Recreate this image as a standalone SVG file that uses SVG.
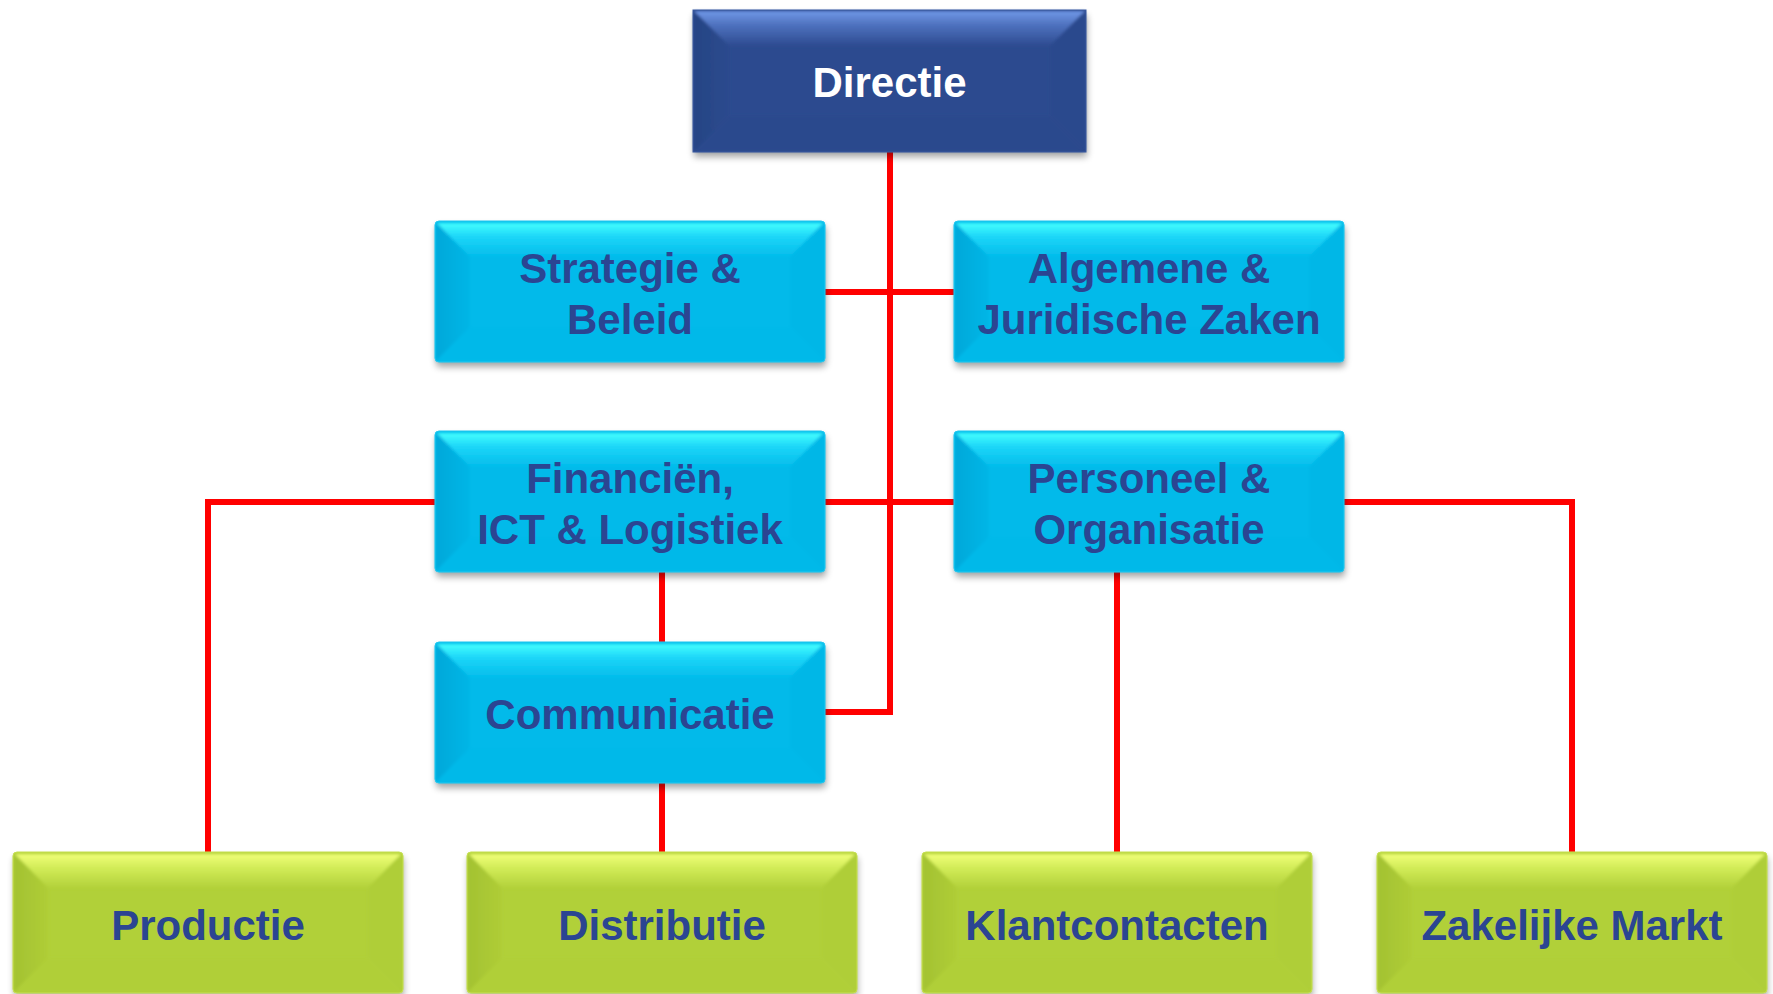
<svg xmlns="http://www.w3.org/2000/svg" xmlns:xlink="http://www.w3.org/1999/xlink" width="1773" height="994" viewBox="0 0 1773 994">
<style>
.lbl{font-family:"Liberation Sans",Arial,sans-serif;font-weight:bold;font-size:42px;text-anchor:middle;fill:#2B4592}
.lblw{font-family:"Liberation Sans",Arial,sans-serif;font-weight:bold;font-size:42px;text-anchor:middle;fill:#FFFFFF}
.conn{fill:none;stroke:#FF0000;stroke-width:6;stroke-linejoin:miter;stroke-linecap:butt}
</style>
<defs>
<filter id="sh" x="-10%" y="-20%" width="120%" height="150%">
<feGaussianBlur stdDeviation="3.5"/>
</filter>
<filter id="soft" x="-5%" y="-5%" width="110%" height="110%">
<feGaussianBlur stdDeviation="1.5"/>
</filter>
<linearGradient id="cTop" x1="0" y1="0" x2="0" y2="1">
<stop offset="0" stop-color="#46FFFF"/><stop offset="0.4" stop-color="#1CD6F8"/><stop offset="1" stop-color="#03BCEB"/>
</linearGradient>
<linearGradient id="cLeft" x1="0" y1="0" x2="1" y2="0">
<stop offset="0" stop-color="#02A8DA"/><stop offset="1" stop-color="#03B6E6"/>
</linearGradient>
<linearGradient id="gTop" x1="0" y1="0" x2="0" y2="1">
<stop offset="0" stop-color="#F0FF78"/><stop offset="0.4" stop-color="#D2EC58"/><stop offset="1" stop-color="#B2D13A"/>
</linearGradient>
<linearGradient id="gLeft" x1="0" y1="0" x2="1" y2="0">
<stop offset="0" stop-color="#A3C232"/><stop offset="1" stop-color="#AFCD37"/>
</linearGradient>
<linearGradient id="dTop" x1="0" y1="0" x2="0" y2="1">
<stop offset="0" stop-color="#7098E8"/><stop offset="0.4" stop-color="#4E71BE"/><stop offset="1" stop-color="#2D4B90"/>
</linearGradient>
<linearGradient id="dLeft" x1="0" y1="0" x2="1" y2="0">
<stop offset="0" stop-color="#264484"/><stop offset="1" stop-color="#2B4A8E"/>
</linearGradient>
<g id="cyanBox">
<rect x="1" y="5" width="390" height="141" rx="4" fill="#000" opacity="0.35" filter="url(#sh)"/>
<rect x="0" y="0" width="390" height="141" rx="4" fill="#02BAEA"/>
<g filter="url(#soft)">
<polygon points="2,2 388,2 355,36 35,36" fill="url(#cTop)"/>
<polygon points="1,2 35,36 35,106 1,140" fill="url(#cLeft)"/>
<polygon points="389,2 355,36 355,106 389,140" fill="#03B7E7"/>
<polygon points="1,140 35,106 355,106 389,140" fill="#03B9E9"/>
</g>
<rect x="0" y="0" width="390" height="141" rx="4" fill="none" stroke="#20C8F0" stroke-width="1"/>
</g>
<g id="greenBox">
<rect x="1" y="5" width="390" height="141" rx="4" fill="#000" opacity="0.3" filter="url(#sh)"/>
<rect x="0" y="0" width="390" height="141" rx="4" fill="#B1D039"/>
<g filter="url(#soft)">
<polygon points="2,2 388,2 355,36 35,36" fill="url(#gTop)"/>
<polygon points="1,2 35,36 35,106 1,140" fill="url(#gLeft)"/>
<polygon points="389,2 355,36 355,106 389,140" fill="#AFCE38"/>
<polygon points="1,140 35,106 355,106 389,140" fill="#B0CF38"/>
</g>
<rect x="0" y="0" width="390" height="141" rx="4" fill="none" stroke="#C6E050" stroke-width="1"/>
</g>
</defs>

<g id="connectors">
<path class="conn" d="M890,152 V712 H825"/>
<path class="conn" d="M825,292 H954"/>
<path class="conn" d="M825,502 H954"/>
<path class="conn" d="M435,502 H208 V852"/>
<path class="conn" d="M1344,502 H1572 V852"/>
<path class="conn" d="M662,572 V642"/>
<path class="conn" d="M662,782 V852"/>
<path class="conn" d="M1117,572 V852"/>
</g>

<g id="directie" transform="translate(693,10)">
<rect x="1" y="5" width="393" height="142" fill="#000" opacity="0.35" filter="url(#sh)"/>
<rect x="0" y="0" width="393" height="142" fill="#2C4A8F"/>
<g filter="url(#soft)">
<polygon points="1,1 392,1 357,36 36,36" fill="url(#dTop)"/>
<polygon points="1,1 36,36 36,106 1,141" fill="url(#dLeft)"/>
<polygon points="392,1 357,36 357,106 392,141" fill="#2B498D"/>
<polygon points="1,141 36,106 357,106 392,141" fill="#2B498D"/>
</g>
<rect x="0" y="0" width="393" height="142" fill="none" stroke="#3A5AA0" stroke-width="1"/>
<text class="lblw" x="196.5" y="87">Directie</text>
</g>

<g id="strategie" transform="translate(435,221)">
<use xlink:href="#cyanBox"/>
<text class="lbl" x="195" y="62">Strategie &amp;</text>
<text class="lbl" x="195" y="113">Beleid</text>
</g>

<g id="algemene" transform="translate(954,221)">
<use xlink:href="#cyanBox"/>
<text class="lbl" x="195" y="62">Algemene &amp;</text>
<text class="lbl" x="195" y="113">Juridische Zaken</text>
</g>

<g id="financien" transform="translate(435,431)">
<use xlink:href="#cyanBox"/>
<text class="lbl" x="195" y="62">Financiën,</text>
<text class="lbl" x="195" y="113">ICT &amp; Logistiek</text>
</g>

<g id="personeel" transform="translate(954,431)">
<use xlink:href="#cyanBox"/>
<text class="lbl" x="195" y="62">Personeel &amp;</text>
<text class="lbl" x="195" y="113">Organisatie</text>
</g>

<g id="communicatie" transform="translate(435,642)">
<use xlink:href="#cyanBox"/>
<text class="lbl" x="195" y="87">Communicatie</text>
</g>

<g id="productie" transform="translate(13,852)">
<use xlink:href="#greenBox"/>
<text class="lbl" x="195" y="88">Productie</text>
</g>

<g id="distributie" transform="translate(467,852)">
<use xlink:href="#greenBox"/>
<text class="lbl" x="195" y="88">Distributie</text>
</g>

<g id="klantcontacten" transform="translate(922,852)">
<use xlink:href="#greenBox"/>
<text class="lbl" x="195" y="88">Klantcontacten</text>
</g>

<g id="zakelijke" transform="translate(1377,852)">
<use xlink:href="#greenBox"/>
<text class="lbl" x="195" y="88">Zakelijke Markt</text>
</g>
</svg>
